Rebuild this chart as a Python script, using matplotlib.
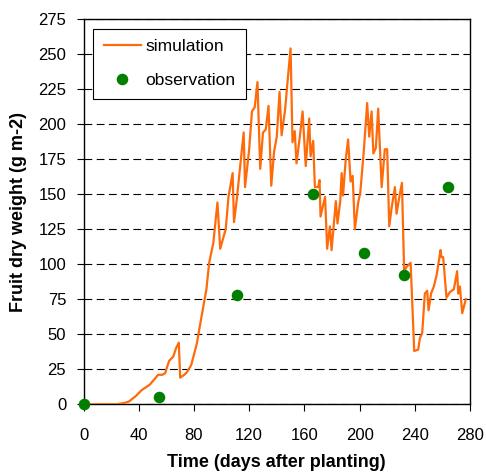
import matplotlib
matplotlib.use('Agg')
import matplotlib.pyplot as plt
import numpy as np

plt.rcParams['font.family'] = ['Liberation Sans', 'DejaVu Sans']

# simulated fruit dry weight
sim_day = [0, 24, 30, 33, 38, 42, 48, 54, 57, 59, 62, 65, 67, 69, 70, 73, 75, 78,
           82, 85, 89, 91, 94, 97, 99, 103, 105, 108, 109, 111, 114, 116, 117, 120,
           122, 124, 126, 128, 130, 132, 134, 136, 138, 140, 142, 143.5, 146, 147.5,
           150, 151.4, 153, 154.3, 156.7, 158.7, 161, 163.5, 164.5, 166.4, 167.6,
           170, 171, 171.7, 175, 176.5, 178.5, 179.7, 182.8, 184, 186, 187, 188,
           190, 191.7, 193.5, 195, 196.6, 199, 200.5, 203, 205.5, 207, 208.7, 210,
           211.8, 213.5, 216, 218.3, 220, 221.5, 223.2, 225.6, 226.8, 228.8, 230.7,
           232.3, 234, 237, 239.6, 242.5, 243.7, 245.4, 247.3, 249, 250, 251.8,
           253.8, 255.8, 258.7, 259.4, 260.6, 263, 265.4, 268.3, 270.7, 271.5,
           272.7, 274.4, 277]
sim_val = [0, 0, 1, 2, 6, 10, 14, 21, 21, 22, 31, 34, 40, 44, 19, 21, 23, 28,
           43, 60, 82, 101, 115, 144, 111, 125, 148, 165, 130, 146, 175, 194, 155, 182,
           209, 212, 230, 168, 194, 196, 213, 156, 180, 191, 223, 192, 210, 227,
           254, 187, 195, 172, 191, 209, 170, 204, 177, 188, 155,
           155, 160, 134, 148, 111, 127, 110, 145, 129, 145, 165, 149,
           175, 189, 159, 163, 125, 144, 151, 180, 215, 191, 209, 179,
           183, 211, 155, 182, 182, 127, 140, 155, 136, 148, 158,
           95, 98, 101, 38, 39, 47, 51, 79, 81, 67, 79,
           84, 92, 110, 105, 105, 76, 80, 82, 95, 79,
           84, 65, 75]

# observations
obs_day = [0, 55, 111, 166, 203, 232, 264]
obs_val = [0, 5, 78, 150, 108, 92, 155]

fig = plt.figure(figsize=(4.86, 4.75), dpi=100)
ax = fig.add_axes([0.172, 0.149, 0.795, 0.811])

ax.plot(sim_day, sim_val, color='#FF6A0A', linewidth=1.6, label='simulation', zorder=3)
ax.plot(obs_day, obs_val, 'o', color='#007F00', markersize=7.3, label='observation',
        clip_on=False, zorder=4)

ax.set_xlim(0, 280)
ax.set_ylim(0, 275)
ax.set_xticks(np.arange(0, 281, 40))
ax.set_yticks(np.arange(0, 276, 25))
ax.yaxis.grid(True, color='black', linestyle=(0, (7, 4)), linewidth=0.8)
ax.set_axisbelow(True)
ax.tick_params(axis='x', length=5, width=0.8, labelsize=12, pad=12)
ax.tick_params(axis='y', length=5, width=0.8, labelsize=12, pad=7.5)
for sp in ax.spines.values():
    sp.set_linewidth(1.0)

ax.set_xlabel('Time (days after planting)', fontsize=13, fontweight='bold')
ax.set_ylabel('Fruit dry weight (g m-2)', fontsize=13, fontweight='bold')
ax.xaxis.set_label_coords(0.5, -0.13)
ax.yaxis.set_label_coords(-0.147, 0.5)

leg = ax.legend(loc='upper left', bbox_to_anchor=(0.025, 0.975), fontsize=12.5,
                frameon=True, fancybox=False, framealpha=1, edgecolor='black',
                borderpad=0.6, borderaxespad=0, handlelength=2.15,
                handletextpad=0.25, labelspacing=1.1)
leg.get_frame().set_linewidth(0.8)

plt.savefig('out.png', dpi=100)
